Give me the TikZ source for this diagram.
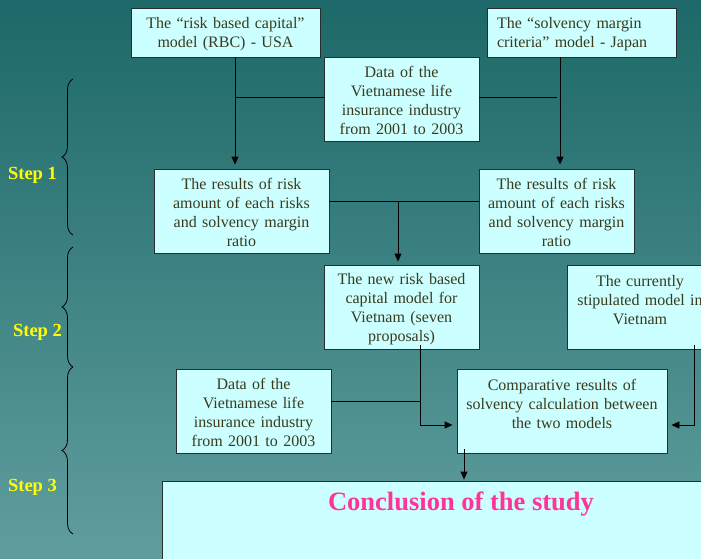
\documentclass[tikz,border=0pt]{standalone}
\usepackage{fontspec}
\setmainfont{Liberation Serif}
\usetikzlibrary{arrows.meta,decorations.pathreplacing,calc}
\definecolor{bgtop}{RGB}{29,104,104}
\definecolor{bgbot}{RGB}{96,158,158}
\definecolor{boxfill}{RGB}{204,255,255}
\definecolor{boxline}{RGB}{40,45,45}
\definecolor{txt}{RGB}{58,58,28}
\definecolor{pinkc}{RGB}{255,51,153}
\definecolor{yel}{RGB}{255,255,0}
\tikzset{
  box/.style={draw=boxline, line width=0.9pt, fill=boxfill, text=txt, inner xsep=4pt, inner ysep=0pt,
    align=center, font=\fontsize{16}{19}\selectfont, minimum height=84pt,
    execute at begin node={\rule{0pt}{15pt}}},
  conn/.style={draw=black, line width=0.9pt},
  arr/.style={conn, -{Triangle[length=8pt,width=7pt]}},
  steplbl/.style={text=yel, font=\fontsize{18.5}{20}\selectfont\bfseries},
  bracestyle/.style={draw=black, line width=0.8pt, decorate, decoration={brace, amplitude=11pt}}
}
\begin{document}
\begin{tikzpicture}[x=1pt,y=-1pt]
\useasboundingbox (0,0) rectangle (701,559);
\shade[top color=bgtop, bottom color=bgbot] (0,0) rectangle (701,559);
\clip (0,0) rectangle (701,559);
% boxes
\node[box, minimum height=49pt, text width=181pt] (rbc) at (225.5,32.5) {The “risk based capital”\\ model (RBC) - USA};
\node[box, minimum height=49pt, text width=169pt, inner xsep=10pt, align=left] (jpn) at (581.5,32.5) {The “solvency margin\\ criteria” model - Japan};
\node[box, text width=147pt] (data1) at (401.5,99) {Data of the\\ Vietnamese life\\ insurance industry\\ from 2001 to 2003};
\node[box, text width=167pt] (res1) at (241.5,211) {The results of risk\\ amount of each risks\\ and solvency margin\\ ratio};
\node[box, text width=147pt] (res2) at (556.5,211) {The results of risk\\ amount of each risks\\ and solvency margin\\ ratio};
\node[box, text width=147pt] (newrbc) at (401.5,307) {The new risk based\\ capital model for\\ Vietnam (seven\\ proposals)};
\node[box, text width=138pt] (curr) at (640,307) {The currently\\ stipulated model in\\ Vietnam\\ \mbox{}};
\node[box, text width=147pt] (data2) at (253.5,411) {Data of the\\ Vietnamese life\\ insurance industry\\ from 2001 to 2003};
\node[box, text width=202pt] (comp) at (562,411) {Comparative results of\\ solvency calculation between\\ the two models\\ \mbox{}};
\node[box, minimum width=598pt, minimum height=139pt, inner sep=0pt, execute at begin node={}] (concl) at (461,550.5) {};
\node[text=pinkc, font=\fontsize{26.5}{30}\selectfont\bfseries] (concltxt) at (461,504) {Conclusion of the study};
% connectors
\coordinate (rbcx) at ([xshift=9.5pt]rbc.south);
\coordinate (jpnx) at ([xshift=-21.5pt]jpn.south);
\draw[arr, shorten >=4pt] (rbcx) -- (rbcx |- res1.north);
\draw[arr, shorten >=4pt] (jpnx) -- (jpnx |- res2.north);
\draw[conn] ([yshift=2pt]data1.west) -- ([yshift=2pt]data1.west -| rbcx);
\draw[conn, shorten >=3pt] ([yshift=2pt]data1.east) -- ([yshift=2pt]data1.east -| jpnx);
\draw[conn] ([yshift=10pt]res1.east) -- ([yshift=10pt]res2.west);
\coordinate (resx) at ([xshift=-3.5pt,yshift=10pt]res1.east -| newrbc.north);
\draw[arr, shorten >=3pt] (resx) -- (resx |- newrbc.north);
\coordinate (nx) at ([xshift=18.5pt,yshift=4pt]newrbc.south);
\draw[arr, shorten >=4pt] (nx) |- ([yshift=-14pt]comp.west);
\draw[conn] ([yshift=10pt]data2.east) -- ([yshift=10pt]data2.east -| nx);
\coordinate (cx) at ([xshift=54pt,yshift=4pt]curr.south);
\draw[arr, shorten >=4pt] (cx) |- ([yshift=-14pt]comp.east);
\coordinate (kx) at ([xshift=-98pt,yshift=4pt]comp.south);
\draw[arr, shorten >=1pt] (kx) -- (kx |- concl.north);
% braces and step labels
\coordinate (b1a) at (73,235);
\coordinate (b1b) at (73,79);
\coordinate (b2a) at (73,367);
\coordinate (b2b) at (73,247);
\coordinate (b3a) at (73,534);
\coordinate (b3b) at (73,367);
\draw[bracestyle] (b1a) -- (b1b);
\draw[bracestyle] (b2a) -- (b2b);
\draw[bracestyle] (b3a) -- (b3b);
\node[steplbl] (s1) at (32.5,175) {Step 1};
\node[steplbl] (s2) at (37.5,332) {Step 2};
\node[steplbl] (s3) at (32.5,487) {Step 3};
\end{tikzpicture}
\end{document}
